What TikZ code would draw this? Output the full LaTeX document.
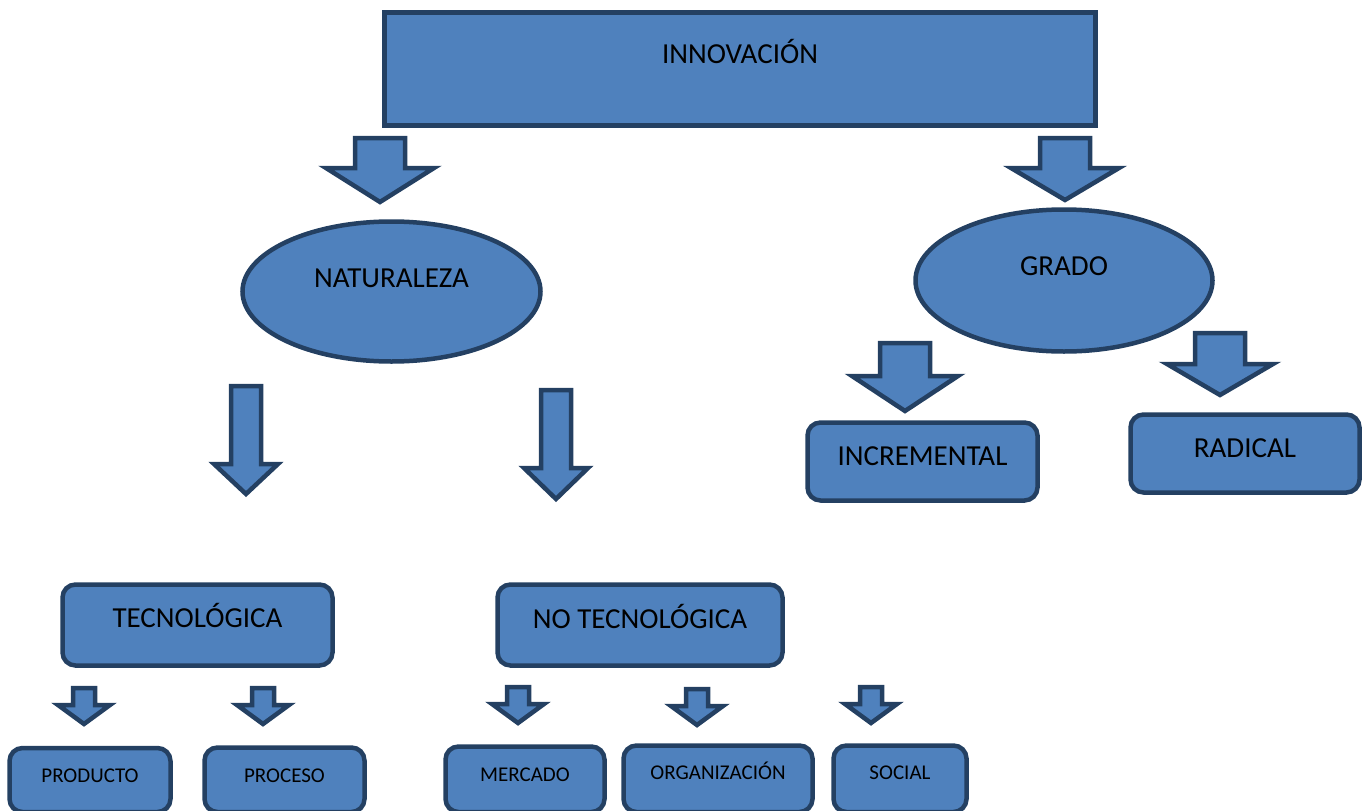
\documentclass[tikz,border=0pt]{standalone}
\usepackage{fontspec}
\setmainfont{Carlito}
\usepackage{xcolor}
\definecolor{cpfill}{RGB}{79,129,189}
\definecolor{cpline}{RGB}{36,64,98}
\usepackage{tikz}
\usetikzlibrary{shapes.geometric}
\tikzset{
  shapebase/.style={draw=cpline, fill=cpfill, line width=4.5pt, inner sep=0pt},
  topbox/.style={shapebase, rectangle, line width=5pt},
  oval/.style={shapebase, ellipse},
  rbox/.style={shapebase, rectangle, rounded corners=13pt},
  bigtxt/.style={font=\fontsize{29}{34}\selectfont, text=black, text height=18.7pt, text depth=0pt},
  smalltxt/.style={font=\fontsize{21}{25}\selectfont, text=black, text height=13.5pt, text depth=0pt},
  blk/.style={draw=cpline, fill=cpfill, line width=4.5pt, line join=miter}
}
% block arrow: centre x, top, head base, tip, half shaft, half head
\newcommand{\blkarrow}[6]{%
  \draw[blk] (#1-#5,#2) -- (#1+#5,#2) -- (#1+#5,#3) -- (#1+#6,#3)
    -- (#1,#4) -- (#1-#6,#3) -- (#1-#5,#3) -- cycle;}

\begin{document}
\begin{tikzpicture}[x=1pt, y=-1pt]
  \useasboundingbox (0,0) rectangle (1368,811);

  % top level
  \node[topbox, minimum width=711pt, minimum height=113pt,
        label={[bigtxt, yshift=15pt]center:INNOVACIÓN}] (innov) at (740,69) {};

  \node[oval, minimum width=298pt, minimum height=140pt,
        label={[bigtxt, yshift=13pt]center:NATURALEZA}] (nat) at (391.5,291.5) {};
  \node[oval, minimum width=297pt, minimum height=142pt,
        label={[bigtxt, yshift=14pt]center:GRADO}] (grado) at (1064,280.5) {};

  \blkarrow{380}{138}{168}{202}{25}{54}
  \blkarrow{1065}{138}{168}{200}{25}{54}

  % grado
  \node[rbox, minimum width=230pt, minimum height=78pt,
        label={[bigtxt, yshift=5.5pt]center:INCREMENTAL}] (incr) at (922.5,461.5) {};
  \node[rbox, minimum width=229pt, minimum height=78pt,
        label={[bigtxt, yshift=5.5pt]center:RADICAL}] (radical) at (1245,453.5) {};

  \blkarrow{905}{343}{376}{411}{25}{53}
  \blkarrow{1220}{333}{364}{395}{25}{53}

  % naturaleza
  \node[rbox, minimum width=270pt, minimum height=81pt,
        label={[bigtxt, yshift=7pt]center:TECNOLÓGICA}] (tec) at (197.5,625) {};
  \node[rbox, minimum width=285pt, minimum height=81pt,
        label={[bigtxt, yshift=6pt]center:NO TECNOLÓGICA}] (notec) at (640,625) {};

  \blkarrow{246}{386}{464}{494}{15}{32}
  \blkarrow{556}{390}{468}{499}{15}{32}

  % bottom row, cut by the page edge
  \node[rbox, minimum width=161pt, minimum height=64pt,
        label={[smalltxt, yshift=4pt]center:PRODUCTO}] (prod) at (90,780) {};
  \node[rbox, minimum width=160pt, minimum height=64.5pt,
        label={[smalltxt, yshift=4pt]center:PROCESO}] (proc) at (284.5,779.75) {};
  \node[rbox, minimum width=159pt, minimum height=65.5pt,
        label={[smalltxt, yshift=5pt]center:MERCADO}] (merc) at (525,779.25) {};
  \node[rbox, minimum width=189pt, minimum height=66.5pt,
        label={[smalltxt, yshift=6.5pt]center:ORGANIZACIÓN}] (org) at (718,778.75) {};
  \node[rbox, minimum width=133pt, minimum height=66.5pt,
        label={[smalltxt, yshift=6.5pt]center:SOCIAL}] (social) at (900,778.75) {};

  \blkarrow{84}{688}{705}{724}{11}{26}
  \blkarrow{263}{688}{705}{724}{11}{26}
  \blkarrow{518}{687}{704}{723}{11}{26}
  \blkarrow{697}{689}{706}{725}{11}{26}
  \blkarrow{871}{687}{704}{723}{11}{26}
\end{tikzpicture}
\end{document}
